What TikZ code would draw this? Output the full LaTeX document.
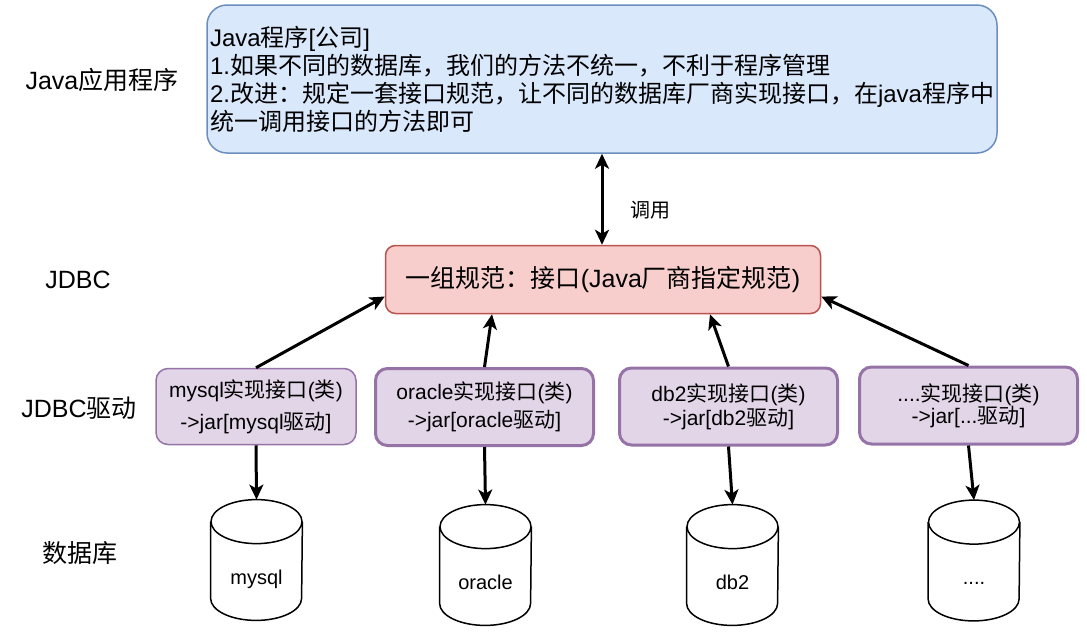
\documentclass[tikz,border=0pt]{standalone}
\usepackage{fontspec}
\setmainfont{Liberation Sans}
\newfontfamily\lat{Liberation Sans}
\newfontfamily\cjk{Noto Sans CJK SC}
\usetikzlibrary{arrows.meta}
% switch to the CJK font for Chinese characters
\newXeTeXintercharclass\hanclass
\def\hanrange#1#2{\count255=#1
	\loop \XeTeXcharclass\count255=\hanclass \advance\count255 by 1
	\ifnum\count255<#2 \repeat}
\hanrange{"4E00}{"A000}
\hanrange{"3000}{"3040}
\hanrange{"FF00}{"FFF0}
\XeTeXinterchartoks 0 \hanclass = {\cjk}
\XeTeXinterchartoks 4095 \hanclass = {\cjk}
\XeTeXinterchartoks \hanclass 0 = {\lat}
\XeTeXinterchartoks \hanclass 4095 = {\lat}
\XeTeXinterchartokenstate=1
\definecolor{appfill}{HTML}{DAE8FC}
\definecolor{appline}{HTML}{6C8EBF}
\definecolor{specfill}{HTML}{F8CECC}
\definecolor{specline}{HTML}{B85450}
\definecolor{drvfill}{HTML}{E1D5E7}
\definecolor{drvline}{HTML}{9673A6}
\tikzset{
	layer/.style={font=\fontsize{12.5}{15}\selectfont},
	appbox/.style={draw=appline, fill=appfill, line width=0.75pt, rounded corners=10pt,
		minimum width=395pt, minimum height=74pt, text width=392pt, inner xsep=1.5pt,
		align=left, font=\fontsize{12}{14}\selectfont},
	specbox/.style={draw=specline, fill=specfill, line width=0.75pt, rounded corners=5pt,
		minimum width=217.5pt, minimum height=34pt, font=\fontsize{12.5}{15}\selectfont},
	drvbox/.style={draw=drvline, fill=drvfill, line width=1.5pt, rounded corners=6pt,
		minimum width=109pt, minimum height=38.5pt, align=center, inner sep=0pt},
	dbnode/.style={minimum width=45.5pt, minimum height=60pt, inner sep=0pt,
		text height=24pt, text depth=0pt, font=\fontsize{10}{12}\selectfont},
	tip/.tip={Stealth[length=7.5pt,width=7pt,inset=2pt]},
	arr/.style={line width=1.5pt, -tip},
}
\def\drum#1{%
	\draw[line width=0.75pt] ([yshift=-11pt]#1.north west) -- ([yshift=11pt]#1.south west)
		arc (180:360:22.75pt and 11pt) -- ([yshift=-11pt]#1.north east);
	\draw[line width=0.75pt] ([yshift=-11pt]#1.north) ellipse (22.75pt and 11pt);}

\begin{document}
\XeTeXinterchartokenstate=1
\begin{tikzpicture}[x=0.5pt,y=-0.5pt]
	\useasboundingbox (0,0) rectangle (1087,633);
	%%%%% LAYERS %%%%%
	\node[layer] (lapp) at (102,80) {Java应用程序};
	\node[layer] (ljdbc) at (78,280) {JDBC};
	\node[layer] (ldrv) at (79,408) {JDBC驱动};
	\node[layer] (ldb) at (80,553) {数据库};
	
	%%%%% BOXES %%%%%
	\node[appbox] (app) at (602,79) {Java程序[公司]\\1.如果不同的数据库，我们的方法不统一，不利于程序管理\\2.改进：规定一套接口规范，让不同的数据库厂商实现接口，在java程序中\\统一调用接口的方法即可};
	\node[specbox] (spec) at (603,279.5) {一组规范：接口(Java厂商指定规范)};
	
	\node[drvbox, line width=0.75pt, minimum width=100pt, minimum height=38pt,
		font=\fontsize{10.5}{16}\selectfont] (mysql) at (256,406.5) {mysql实现接口(类)\\->jar[mysql驱动]};
	\node[drvbox, font=\fontsize{10.5}{14}\selectfont] (oracle) at (484.5,407) {oracle实现接口(类)\\->jar[oracle驱动]};
	\node[drvbox, font=\fontsize{10.5}{12}\selectfont] (db2) at (728.5,406.5) {db2实现接口(类)\\->jar[db2驱动]};
	\node[drvbox, font=\fontsize{10.5}{11}\selectfont] (dots) at (968.5,405.5) {....实现接口(类)\\->jar[...驱动]};
	
	%%%%% DATABASES %%%%%
	\node[dbnode] (mysqldb) at (256.5,560) {mysql};
	\node[dbnode] (oracledb) at (485.5,565) {oracle};
	\node[dbnode] (db2db) at (732.5,565) {db2};
	\node[dbnode] (dotsdb) at (974,560.5) {....};
	\drum{mysqldb}
	\drum{oracledb}
	\drum{db2db}
	\drum{dotsdb}
	
	%%%%% ARROWS %%%%%
	\draw[arr, tip-tip] (app.south) -- (app.south |- spec.north)
		node[pos=0.62, right=10pt, font=\fontsize{10}{12}\selectfont] (call) {调用};
	\draw[arr] (mysql.north) -- ([yshift=-8.5pt]spec.west);
	\draw[arr] (oracle.north) -- ([xshift=-55.5pt]spec.south);
	\draw[arr] (db2.north) -- ([xshift=53.5pt]spec.south);
	\draw[arr] (dots.north) -- ([yshift=-8.5pt]spec.east);
	
	\draw[arr] (mysql.south) -- (mysqldb.north);
	\draw[arr] (oracle.south) -- (oracledb.north);
	\draw[arr] (db2.south) -- (db2db.north);
	\draw[arr] (dots.south) -- (dotsdb.north);
\end{tikzpicture}
\end{document}
